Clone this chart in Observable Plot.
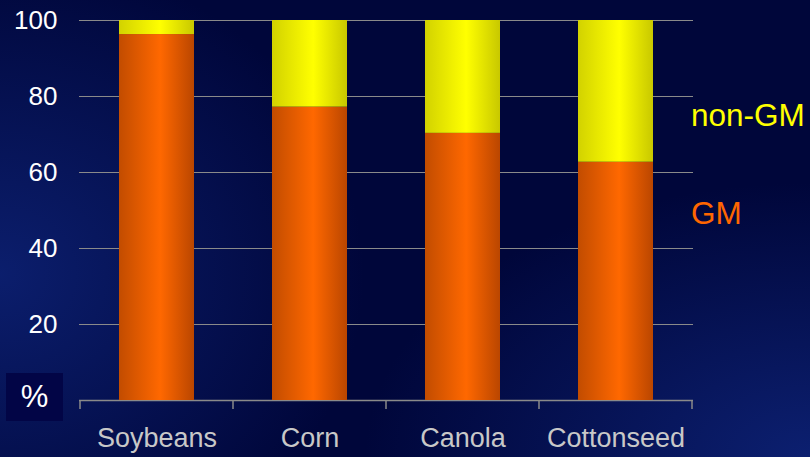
<!DOCTYPE html>
<html>
<head>
<meta charset="utf-8">
<script src="https://cdn.jsdelivr.net/npm/d3@7"></script>
<script src="https://cdn.jsdelivr.net/npm/@observablehq/plot@0.6"></script>
<style>
  html, body { margin: 0; padding: 0; }
  body {
    width: 810px; height: 457px; overflow: hidden; position: relative;
    font-family: "Liberation Sans", Arial, sans-serif;
    background:
      radial-gradient(ellipse 45% 70% at 0% 60%, rgba(16, 40, 130, 0.7), rgba(16, 40, 130, 0) 100%),
      radial-gradient(ellipse 55% 60% at 100% 100%, rgba(16, 40, 130, 0.75), rgba(16, 40, 130, 0) 100%),
      #00063a;
  }
  #chart { position: absolute; left: 0; top: 0; }
  .unit {
    position: absolute; left: 6px; top: 373px; width: 57px; height: 48px;
    background: #020546; color: #ffffff; font-size: 31px;
    display: flex; align-items: center; justify-content: center;
  }
  .key { position: absolute; left: 691px; font-size: 31.5px; line-height: 1; }
</style>
</head>
<body>
<div id="chart"></div>
<div class="unit">%</div>
<div class="key" style="top: 100px; color: #ffff00;">non-GM</div>
<div class="key" style="top: 198px; color: #ff6600;">GM</div>
<script>
// Share of each crop that is genetically modified (GM) vs. conventional (non-GM), in %
const crops = ["Soybeans", "Corn", "Canola", "Cottonseed"];
const gmShare = [96.3, 77.2, 70.3, 62.7];
const nonGmShare = [3.7, 22.8, 29.7, 37.3];
const yTicks = [20, 40, 60, 80, 100];

const rows = crops.map((crop, i) => ({
  crop,
  gm: gmShare[i],
  total: gmShare[i] + nonGmShare[i]
}));

// Horizontal shading for the cylindrical look of the bars
const gradients = () => {
  const ns = "http://www.w3.org/2000/svg";
  const defs = document.createElementNS(ns, "defs");
  const make = (id, stops) => {
    const g = document.createElementNS(ns, "linearGradient");
    g.setAttribute("id", id);
    g.setAttribute("x1", "0"); g.setAttribute("x2", "1");
    g.setAttribute("y1", "0"); g.setAttribute("y2", "0");
    for (const [offset, color] of stops) {
      const s = document.createElementNS(ns, "stop");
      s.setAttribute("offset", offset);
      s.setAttribute("stop-color", color);
      g.appendChild(s);
    }
    defs.appendChild(g);
  };
  make("gm", [["0", "#c24c00"], ["0.55", "#ff6800"], ["1", "#ba4600"]]);
  make("nongm", [["0", "#d2d200"], ["0.55", "#ffff00"], ["1", "#c8c800"]]);
  return defs;
};

// Category separators under the baseline, at the edges of each band
const bandTicks = (index, scales) => {
  const ns = "http://www.w3.org/2000/svg";
  const g = document.createElementNS(ns, "g");
  const x = scales.x, y = scales.y;
  const step = x.step(), bw = x.bandwidth();
  const edges = crops.map(c => x(c) - (step - bw) / 2);
  edges.push(edges[edges.length - 1] + step);
  const y0 = y(0);
  for (const e of edges) {
    const l = document.createElementNS(ns, "line");
    l.setAttribute("x1", e); l.setAttribute("x2", e);
    l.setAttribute("y1", y0); l.setAttribute("y2", y0 + 9);
    l.setAttribute("stroke", "#8a8a8a");
    l.setAttribute("stroke-width", 1.5);
    g.appendChild(l);
  }
  return g;
};

const chart = Plot.plot({
  width: 810,
  height: 457,
  marginLeft: 79,
  marginRight: 117,
  marginTop: 20,
  marginBottom: 57,
  style: { background: "transparent", fontFamily: "'Liberation Sans', Arial, sans-serif", overflow: "visible" },
  x: { domain: crops, paddingInner: 0.51, paddingOuter: 0.255, label: null },
  y: { domain: [0, 100], label: null },
  marks: [
    gradients,
    Plot.ruleY(yTicks, { stroke: "#8a8a8a", strokeWidth: 1.2 }),
    Plot.ruleY([0], { stroke: "#8a8a8a", strokeWidth: 1.5 }),
    Plot.barY(rows, { x: "crop", y1: 0, y2: "gm", fill: "url(#gm)" }),
    Plot.barY(rows, { x: "crop", y1: "gm", y2: "total", fill: "url(#nongm)" }),
    bandTicks,
    Plot.axisY({ ticks: yTicks, tickSize: 0, tickPadding: 22, fontSize: 26, fill: "#ffffff", label: null }),
    Plot.axisX({ tickSize: 0, tickPadding: 27, fontSize: 27, fill: "#c8c8c8", label: null })
  ]
});

document.getElementById("chart").appendChild(chart);
</script>
</body>
</html>
